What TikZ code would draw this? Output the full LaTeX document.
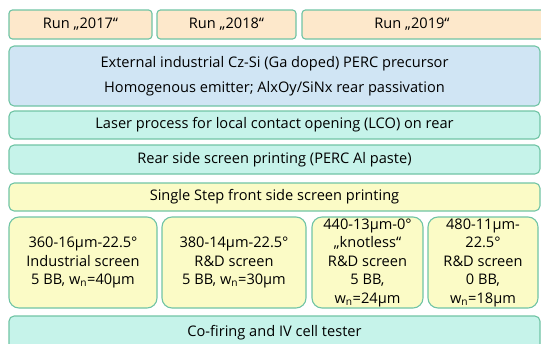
\documentclass[tikz,border=0pt]{standalone}
\usepackage{fontspec}
\setmainfont{Open Sans}
\usepackage{xcolor}
\usepackage{tikz}
\definecolor{runorange}{RGB}{253, 232, 203}
\definecolor{precblue}{RGB}{208, 229, 244}
\definecolor{stepteal}{RGB}{198, 243, 234}
\definecolor{printyellow}{RGB}{251, 251, 198}
\definecolor{edgegreen}{RGB}{112, 196, 165}

\begin{document}
\begin{tikzpicture}[x=1pt, y=-1pt,
        box/.style = {draw=edgegreen, line width=1.1pt, rounded corners=1.8mm, inner sep=0pt, align=center, font=\fontsize{14.6}{18.5}\selectfont},
        run/.style = {box, fill=runorange, rounded corners=1.2mm, minimum height=29pt},
        wide/.style = {box, minimum width=531pt}]
    \useasboundingbox (0,0) rectangle (541,343);
    \clip (0,0) rectangle (541,343);
        % runs
        \node[run, minimum width=143pt] (r17) at (80.5, 24.5) {Run „2017“};
        \node[run, minimum width=139pt] (r18) at (226.5, 24.5) {Run „2018“};
        \node[run, minimum width=258pt, label={[xshift=-19pt, font=\fontsize{14.6}{18.5}\selectfont]center:Run „2019“}] (r19) at (431, 24.5) {};
        % process steps
        \node[wide, fill=precblue, minimum height=60pt, font=\fontsize{14.6}{25}\selectfont] (prec) at (274.5, 76) {External industrial Cz-Si (Ga doped) PERC precursor\\Homogenous emitter; AlxOy/SiNx rear passivation};
        \node[wide, fill=stepteal, minimum height=28pt] (lco) at (274.5, 125) {Laser process for local contact opening (LCO) on rear};
        \node[wide, fill=stepteal, minimum height=29pt] (rear) at (274.5, 159.5) {Rear side screen printing (PERC Al paste)};
        \node[wide, fill=printyellow, minimum height=28pt] (front) at (274.5, 197) {Single Step front side screen printing};
        % screens
        \node[box, fill=printyellow, rounded corners=3.5mm, minimum width=148pt, minimum height=91pt] (s1) at (83, 262.5) {360-16µm-22.5°\\Industrial screen\\5 BB, w\textsubscript{n}=40µm};
        \node[box, fill=printyellow, rounded corners=3.5mm, minimum width=144pt, minimum height=91pt] (s2) at (234, 262.5) {380-14µm-22.5°\\R\&D screen\\5 BB, w\textsubscript{n}=30µm};
        \node[box, fill=printyellow, rounded corners=3.5mm, minimum width=111pt, minimum height=91pt] (s3) at (367.5, 262.5) {440-13µm-0°\\„knotless“\\R\&D screen\\5 BB,\\w\textsubscript{n}=24µm};
        \node[box, fill=printyellow, rounded corners=3.5mm, minimum width=110pt, minimum height=91pt] (s4) at (483, 262.5) {480-11µm-\\22.5°\\R\&D screen\\0 BB,\\w\textsubscript{n}=18µm};
        % tester
        \node[wide, fill=stepteal, minimum height=34pt] (fire) at (274.5, 333) {Co-firing and IV cell tester};
\end{tikzpicture}
\end{document}
